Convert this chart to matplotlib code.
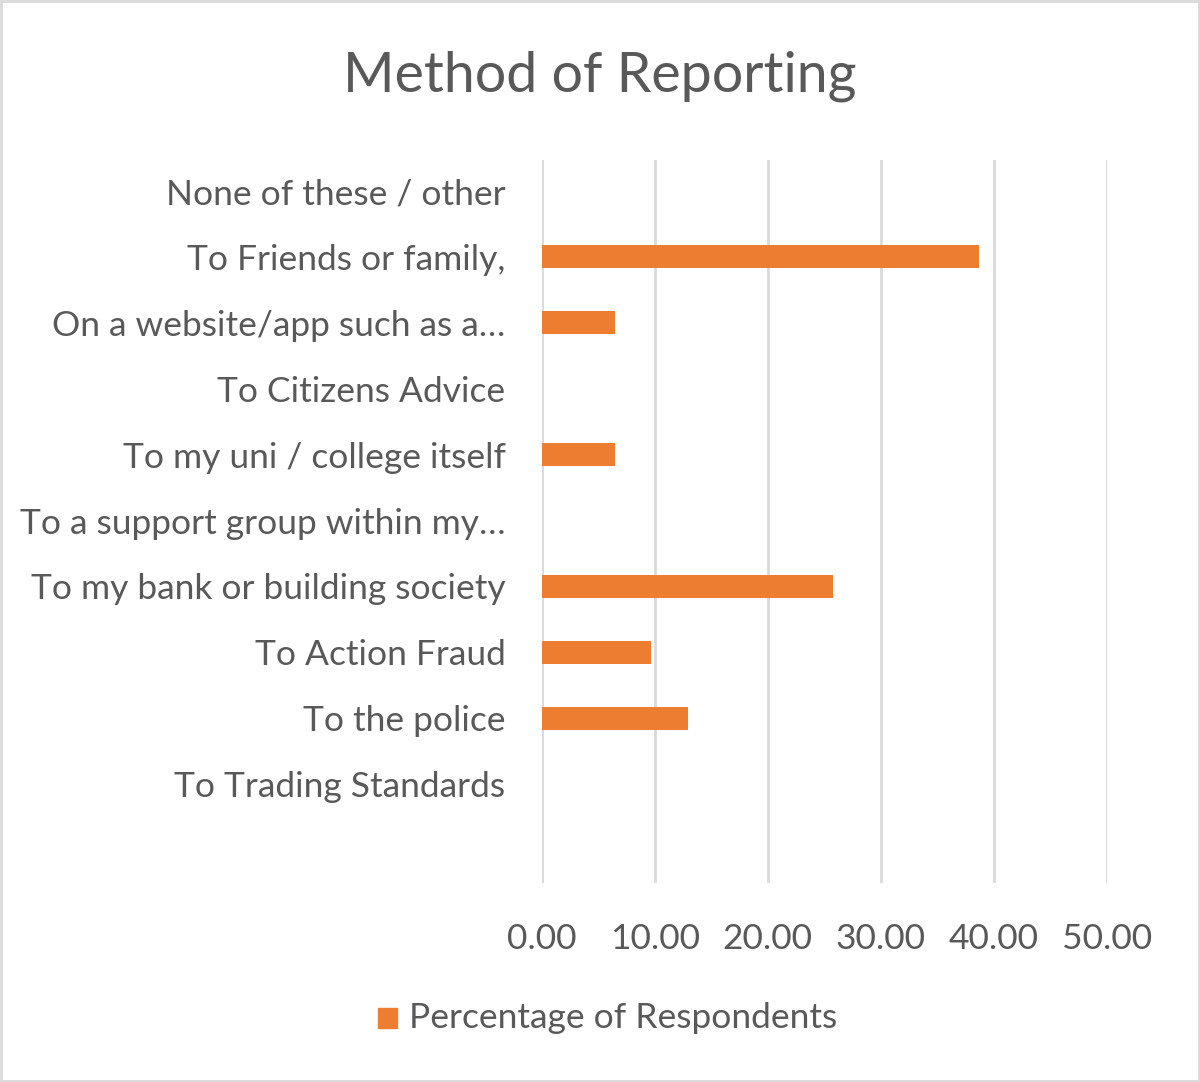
import matplotlib.pyplot as plt
from matplotlib.patches import Rectangle

# ----------------------------
# DATA
# ----------------------------
categories = [
    "To Trading Standards",
    "To the police",
    "To Action Fraud",
    "To my bank or building society",
    "To a support group within my…",
    "To my uni / college itself",
    "To Citizens Advice",
    "On a website/app such as a…",
    "To Friends or family,",
    "None of these / other",
]
percentages = [0, 12.90, 9.68, 25.81, 0, 6.45, 0, 6.45, 38.71, 0]
x_ticks = [0, 10, 20, 30, 40, 50]
series_name = "Percentage of Respondents"

ORANGE = "#ED7D31"
TEXT = "#595959"
GRID = "#D9D9D9"

plt.rcParams["font.family"] = ["Lato", "DejaVu Sans"]

fig = plt.figure(figsize=(12, 10.82), dpi=100)
ax = fig.add_axes([0.4514, 0.1839, 0.4711, 0.6682])

y = list(range(len(categories)))
ax.barh(y, percentages, height=0.35, color=ORANGE, zorder=3)

ax.set_xlim(0, 50)
ax.set_ylim(-1.5, 9.47)
ax.set_xticks(x_ticks)
ax.set_xticklabels([f"{v:.2f}" for v in x_ticks], fontsize=25.5, color=TEXT)
ax.set_yticks(y)
ax.set_yticklabels(categories, fontsize=25.5, color=TEXT)
ax.tick_params(axis="both", length=0)
ax.tick_params(axis="y", pad=26)
ax.tick_params(axis="x", pad=29)

ax.grid(axis="x", color=GRID, linewidth=2, zorder=0)
for s in ax.spines.values():
    s.set_visible(False)

fig.text(0.5, 1 - 76 / 1082, "Method of Reporting", ha="center", va="center",
         fontsize=40, color=TEXT)

# legend
fig.patches.append(Rectangle((378 / 1200, 1 - 1028 / 1082), 19 / 1200, 20 / 1082,
                             transform=fig.transFigure, color=ORANGE))
fig.text(409 / 1200, 1 - 1018 / 1082, series_name, ha="left", va="center",
         fontsize=25.5, color=TEXT)

# outer border
fig.patches.append(Rectangle((0.001, 0.001), 0.998, 0.998, transform=fig.transFigure,
                             fill=False, edgecolor=GRID, linewidth=2))

fig.savefig("out.png", dpi=100)
